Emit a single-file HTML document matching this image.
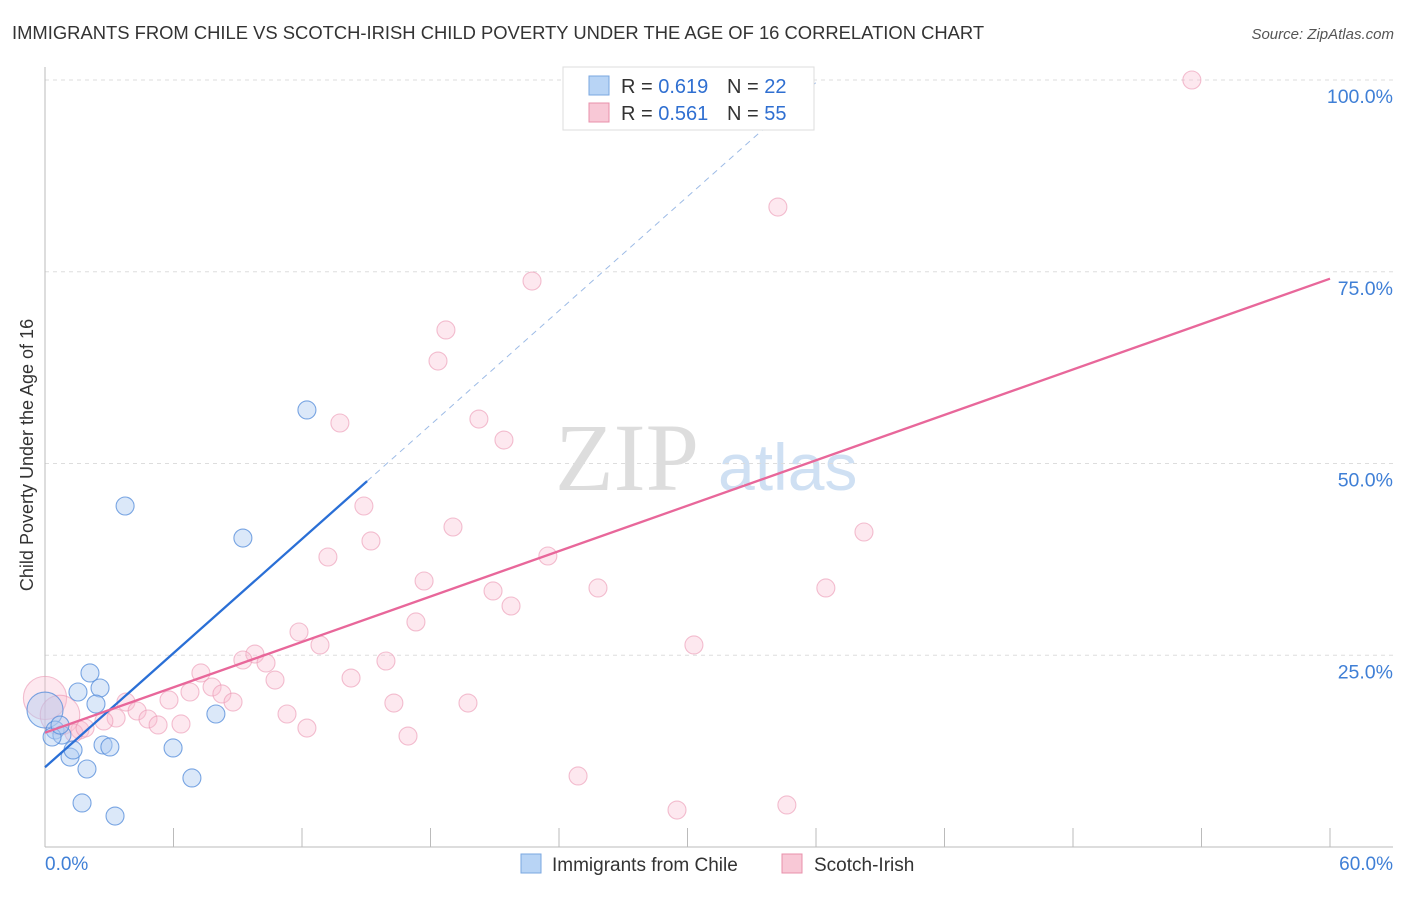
<!DOCTYPE html>
<html><head><meta charset="utf-8"><style>
body{margin:0;background:#fff;font-family:"Liberation Sans",sans-serif}
svg text{font-family:"Liberation Sans",sans-serif}
</style></head><body>
<svg id="c" width="1406" height="892">
<text x="12" y="39" font-size="18.4" fill="#333">IMMIGRANTS FROM CHILE VS SCOTCH-IRISH CHILD POVERTY UNDER THE AGE OF 16 CORRELATION CHART</text>
<text x="1394" y="39" font-size="15" fill="#555" font-style="italic" text-anchor="end">Source: ZipAtlas.com</text>
<text transform="translate(33,455) rotate(-90)" font-size="18" fill="#333" text-anchor="middle">Child Poverty Under the Age of 16</text>
<text x="555" y="490" font-size="96" fill="#ddd" style="font-family:'Liberation Serif',serif">ZIP</text>
<text x="718" y="490" font-size="66" fill="#cfe0f3">atlas</text>
<g id="grid"></g><g id="pts"></g><g id="lines"></g>
<g>
<rect x="563" y="67" width="251" height="63" fill="#fff" stroke="#ddd"/>
<rect x="589" y="76" width="20" height="19" fill="#b8d4f5" stroke="#7aa7e0"/>
<text x="621" y="93" font-size="20" fill="#333">R = <tspan fill="#2f6fd1">0.619</tspan></text>
<text x="727" y="93" font-size="20" fill="#333">N = <tspan fill="#2f6fd1">22</tspan></text>
<rect x="589" y="103" width="20" height="19" fill="#f8c8d6" stroke="#e890ab"/>
<text x="621" y="120" font-size="20" fill="#333">R = <tspan fill="#2f6fd1">0.561</tspan></text>
<text x="727" y="120" font-size="20" fill="#333">N = <tspan fill="#2f6fd1">55</tspan></text>
</g>
<g>
<rect x="521" y="854" width="20" height="19" fill="#b8d4f5" stroke="#7aa7e0"/>
<text x="552" y="871" font-size="19" fill="#333">Immigrants from Chile</text>
<rect x="782" y="854" width="20" height="19" fill="#f8c8d6" stroke="#e890ab"/>
<text x="814" y="871" font-size="19" fill="#333">Scotch-Irish</text>
</g>
</svg>
<script>
const xTicks=[0,6,12,18,24,30,36,42,48,54,60];
const yTicks=[25,50,75,100];
const yTickLabels=["25.0%","50.0%","75.0%","100.0%"];
const xEndLabels=["0.0%","60.0%"];
const chileX=[12.23,3.74,9.24,2.10,1.54,2.57,2.38,7.98,0,0.47,0.79,0.33,1.17,1.31,2.71,3.03,1.96,5.98,1.73,3.27,6.86,0.70];
const chileY=[56.98,44.46,40.28,22.69,20.21,20.73,18.64,17.34,17.86,15.25,14.60,14.34,11.73,12.65,13.30,13.04,10.17,12.91,5.74,4.04,9.00,15.9];
const chileSize=[1,1,1,1,1,1,1,1,2,1,1,1,1,1,1,1,1,1,1,1,1,1];
const scotX=[53.55,34.22,22.74,18.72,18.35,13.77,20.26,21.43,14.89,19.05,15.22,13.21,23.48,17.70,25.82,20.92,21.76,36.46,38.24,11.86,12.84,9.80,9.24,10.32,15.92,7.28,10.74,14.29,7.80,6.77,8.26,5.79,8.78,3.78,17.32,16.29,19.75,4.30,4.81,3.32,2.75,5.28,6.35,11.30,12.23,16.95,24.89,30.30,29.51,34.64,0,0.70,1.63,1.35,1.87];
const scotY=[100.0,83.44,73.79,67.41,63.36,55.28,55.80,53.06,44.46,41.72,39.90,37.81,37.94,34.68,33.77,33.38,31.42,33.77,41.07,28.03,26.34,25.16,24.38,23.99,24.25,22.69,21.77,22.03,20.86,20.21,19.95,19.17,18.90,18.90,29.34,18.77,18.77,17.73,16.69,16.82,16.43,15.91,16.04,17.34,15.51,14.47,9.26,26.34,4.82,5.48,19.43,17.21,15.25,14.86,15.51];
const scotSize=[1,1,1,1,1,1,1,1,1,1,1,1,1,1,1,1,1,1,1,1,1,1,1,1,1,1,1,1,1,1,1,1,1,1,1,1,1,1,1,1,1,1,1,1,1,1,1,1,1,1,2.4,2.2,1,1,1];
const chileTrend=[10.4,47.7];
const chileTrendEnd=[15.04,60];
const scotTrend=[14.9,74.1];
const X=v=>45+v/60*1285, Y=v=>847-v/100*767;
const NS="http://www.w3.org/2000/svg";
function mk(p,t,a){const e=document.createElementNS(NS,t);for(const k in a)e.setAttribute(k,a[k]);p.appendChild(e);return e;}
const g=document.getElementById('grid');
yTicks.forEach((t,i)=>{
 const l=mk(g,'line',{x1:45,x2:1393,y1:Y(t),y2:Y(t),stroke:'#ddd','stroke-dasharray':'4,4'});
 
 
 const tx=mk(g,'text',{x:1393,y:Y(t)+23,'font-size':19.5,fill:'#3f7fd6','text-anchor':'end'});
 tx.textContent=yTickLabels[i];
 
 
});
mk(g,'line',{x1:45,x2:45,y1:67,y2:847,stroke:'#bbb'});
mk(g,'line',{x1:45,x2:1393,y1:847,y2:847,stroke:'#bbb'});
xTicks.forEach(t=>{
 const l=mk(g,'line',{x1:X(t),x2:X(t),y1:828,y2:847,stroke:'#bbb'});
 
 
});
[[0,'start'],[60,'end']].forEach((d,i)=>{
 const tx=mk(g,'text',{x:i?1393:45,y:870,'font-size':19,fill:'#3f7fd6','text-anchor':d[1]});
 tx.textContent=xEndLabels[i];
 
 
});
const pg=document.getElementById('pts');
scotX.forEach((x,i)=>{
 const c=mk(pg,'circle',{cx:X(x),cy:Y(scotY[i]),r:9*scotSize[i],fill:'rgba(248,190,208,0.35)',stroke:'rgba(235,150,178,0.6)','stroke-width':1.1});
 
 
});
chileX.forEach((x,i)=>{
 const c=mk(pg,'circle',{cx:X(x),cy:Y(chileY[i]),r:9*chileSize[i],fill:'rgba(175,205,242,0.45)',stroke:'rgba(80,138,218,0.75)','stroke-width':1.1});
 
 
});
const lg=document.getElementById('lines');
const slope=(chileTrend[1]-chileTrend[0])/chileTrendEnd[0];
let l=mk(lg,'line',{x1:X(0),y1:Y(chileTrend[0]),x2:X(chileTrendEnd[0]),y2:Y(chileTrend[1]),stroke:'#2a6fd6','stroke-width':2.3});


const xe=(100-chileTrend[0])/slope;
l=mk(lg,'line',{x1:X(chileTrendEnd[0]),y1:Y(chileTrend[1]),x2:X(xe),y2:Y(100),stroke:'#9dbbe6','stroke-width':1,'stroke-dasharray':'6,5'});


l=mk(lg,'line',{x1:X(0),y1:Y(scotTrend[0]),x2:X(60),y2:Y(scotTrend[1]),stroke:'#e8679a','stroke-width':2.3});


</script>
</body></html>
